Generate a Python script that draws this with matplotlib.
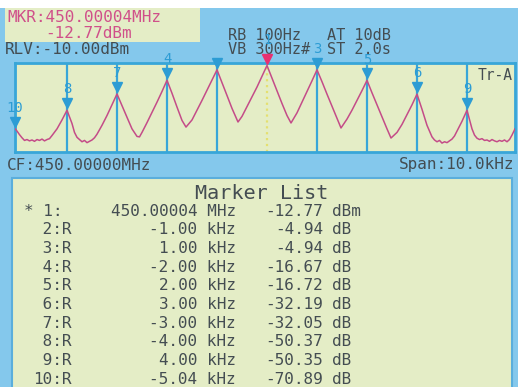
import matplotlib
matplotlib.use("Agg")
import matplotlib.pyplot as plt
from matplotlib.patches import Rectangle
from matplotlib.transforms import offset_copy

# Analyzer settings
center_mhz = 450.0
span_khz = 10.0
ref_level_dbm = -10.0
db_per_div = 10.0

# Active marker and delta markers
mkr1_freq_mhz = 450.00004
mkr1_level_dbm = -12.77
delta_ids = [2, 3, 4, 5, 6, 7, 8, 9, 10]
delta_khz = [-1.00, 1.00, -2.00, 2.00, 3.00, -3.00, -4.00, 4.00, -5.04]
delta_db = [-4.94, -4.94, -16.67, -16.72, -32.19, -32.05, -50.37, -50.35, -70.89]
label_hidden = [2]

# Sweep trace (offset from CF in kHz, level in dBm)
trace_khz = [-5.00, -4.96, -4.91, -4.86, -4.81, -4.76, -4.71, -4.66, -4.61, -4.56,
             -4.51, -4.46, -4.41, -4.36, -4.31, -4.26, -4.16, -4.06, -3.96, -3.86,
             -3.81, -3.76, -3.71, -3.66, -3.61, -3.56, -3.51, -3.46, -3.41, -3.36,
             -3.26, -3.16, -3.06, -2.96, -2.86, -2.76, -2.66, -2.56, -2.51, -2.46,
             -2.36, -2.26, -2.16, -2.06, -1.96, -1.86, -1.76, -1.66, -1.58, -1.46,
             -1.36, -1.26, -1.16, -1.06, -0.96, -0.86, -0.76, -0.66, -0.54, -0.46,
             -0.36, -0.26, -0.16, -0.06, 0.04, 0.14, 0.24, 0.34, 0.44, 0.52,
             0.64, 0.74, 0.84, 0.94, 1.04, 1.14, 1.24, 1.34, 1.44, 1.52,
             1.64, 1.74, 1.84, 1.94, 2.04, 2.14, 2.24, 2.34, 2.44, 2.52,
             2.64, 2.74, 2.84, 2.94, 3.04, 3.14, 3.24, 3.34, 3.39, 3.44,
             3.49, 3.54, 3.59, 3.64, 3.69, 3.74, 3.79, 3.84, 3.94, 4.04,
             4.14, 4.19, 4.24, 4.29, 4.34, 4.39, 4.44, 4.49, 4.54, 4.59,
             4.64, 4.69, 4.74, 4.79, 4.84, 4.89, 4.94, 5.00]
trace_dbm = [-83.7, -86.5, -90.5, -94.0, -97.0, -96.0, -97.5, -96.5, -98.0, -96.0,
             -97.0, -95.5, -97.5, -96.0, -95.0, -91.5, -84.0, -74.0, -63.1, -78.0,
             -88.0, -93.5, -96.0, -98.5, -97.0, -99.5, -98.0, -96.5, -94.0, -90.0,
             -80.0, -69.0, -57.0, -44.8, -58.0, -71.0, -84.0, -92.5, -93.0, -88.0,
             -77.0, -65.5, -54.0, -42.0, -29.4, -44.0, -59.5, -74.5, -82.0, -74.0,
             -63.0, -52.0, -40.5, -29.0, -17.7, -32.0, -46.5, -61.0, -76.3, -70.0,
             -59.0, -48.0, -37.0, -25.0, -12.8, -27.0, -41.5, -55.5, -69.0, -77.4,
             -66.0, -54.0, -42.0, -30.0, -17.7, -31.0, -45.0, -58.5, -72.0, -83.0,
             -73.0, -63.0, -52.0, -41.0, -29.5, -43.5, -57.0, -70.5, -84.0, -94.3,
             -88.0, -79.0, -68.0, -57.0, -45.0, -62.0, -80.0, -93.0, -96.5, -98.5,
             -97.0, -100.0, -98.5, -99.5, -97.5, -95.5, -92.0, -86.5, -75.5, -63.1,
             -84.0, -91.0, -94.5, -96.0, -95.0, -97.0, -96.5, -98.0, -96.0, -97.5,
             -98.5, -97.0, -98.0, -96.5, -98.5, -96.0, -91.0, -84.0]

W, H = 518, 387
BG = "#84c8ec"
PANEL = "#e4edc6"
LINE = "#38a6d8"
TXT = "#444d52"
PINK = "#d0508a"
MONO = "DejaVu Sans Mono"


def fx(x):
    return x / W


def fy(y):
    return 1 - y / H


fig = plt.figure(figsize=(W / 100, H / 100), dpi=100)
fig.patch.set_facecolor("white")
fig.patches.append(Rectangle((0, 0), 1, fy(8), transform=fig.transFigure,
                             facecolor=BG, edgecolor="none", zorder=-3))
# readout panel top-left
fig.patches.append(Rectangle((fx(5), fy(42)), fx(195), 34 / H, transform=fig.transFigure,
                             facecolor=PANEL, edgecolor="none", zorder=-2))
# marker list panel
fig.patches.append(Rectangle((fx(12), fy(395)), fx(500), 217 / H, transform=fig.transFigure,
                             facecolor=PANEL, edgecolor="#5aaedc", lw=1.5, zorder=-2))

# header readouts
fig.text(fx(7), fy(17), f"MKR:{mkr1_freq_mhz:.5f}MHz", color=PINK, family=MONO,
         fontsize=11.5, va="center")
fig.text(fx(45), fy(33), f"{mkr1_level_dbm:.2f}dBm", color=PINK, family=MONO,
         fontsize=11.5, va="center")
fig.text(fx(5), fy(50), f"RLV:{ref_level_dbm:.2f}dBm", color=TXT, family=MONO,
         fontsize=11.5, va="center")
fig.text(fx(228), fy(35), "RB 100Hz", color=TXT, family=MONO, fontsize=11, va="center")
fig.text(fx(228), fy(50), "VB 300Hz#", color=TXT, family=MONO, fontsize=11, va="center")
fig.text(fx(327), fy(35), "AT 10dB", color=TXT, family=MONO, fontsize=11, va="center")
fig.text(fx(327), fy(50), "ST 2.0s", color=TXT, family=MONO, fontsize=11, va="center")
fig.text(fx(7), fy(165), f"CF:{center_mhz:.5f}MHz", color=TXT, family=MONO,
         fontsize=11.5, va="center")
fig.text(fx(514), fy(165), f"Span:{span_khz:.1f}kHz", color=TXT, family=MONO,
         fontsize=11.5, va="center", ha="right")

# trace display (kept above the readout text so marker numbers stay visible)
ax = fig.add_axes([fx(15), fy(152), fx(500), 89 / H])
ax.set_zorder(4)
ax.set_facecolor(PANEL)
ax.set_xlim(-span_khz / 2, span_khz / 2)
ax.set_ylim(ref_level_dbm - 10 * db_per_div, ref_level_dbm)
ax.set_xticks([])
ax.set_yticks([])
for s in ax.spines.values():
    s.set_color(LINE)
    s.set_linewidth(2)

m1_x = (mkr1_freq_mhz - center_mhz) * 1000
mk_x = [m1_x + d for d in delta_khz]
mk_y = [mkr1_level_dbm + d for d in delta_db]

ax.vlines(mk_x, ref_level_dbm - 10 * db_per_div, ref_level_dbm, color=LINE, lw=1.6, zorder=2)
ax.vlines(m1_x, ref_level_dbm - 10 * db_per_div, mkr1_level_dbm, color="#e4e070",
          lw=1.6, ls=":", zorder=2)
ax.plot(trace_khz, trace_dbm, color="#c44c88", lw=1.1, zorder=3)

tri = offset_copy(ax.transData, fig=fig, x=0, y=5, units="points")
ax.plot(mk_x, mk_y, "v", color="#2c9cd4", ms=6.5, transform=tri, zorder=4, clip_on=False)
ax.plot([m1_x], [mkr1_level_dbm], "v", color="#e83070", ms=6.5, transform=tri,
        zorder=5, clip_on=False)

ax.annotate("1", (m1_x, mkr1_level_dbm), xytext=(0, 18), textcoords="offset points",
            ha="center", va="center", color="#2c9cd4", fontsize=10, family=MONO,
            annotation_clip=False)
for i, x, y in zip(delta_ids, mk_x, mk_y):
    if i in label_hidden:
        continue
    ax.annotate(str(i), (x, y), xytext=(0, 15), textcoords="offset points",
                ha="center", va="center", color="#2c9cd4", fontsize=10, family=MONO,
                annotation_clip=False)

ax.text(0.995, 0.86, "Tr-A", transform=ax.transAxes, ha="right", va="center",
        color=TXT, family=MONO, fontsize=10.5)

# marker list table
fig.text(fx(262), fy(193), "Marker List", color=TXT, family=MONO, fontsize=14.5,
         ha="center", va="center")
row_y = 211
fig.text(fx(24), fy(row_y), "* 1:", color=TXT, family=MONO, fontsize=11.5, va="center")
fig.text(fx(236), fy(row_y), f"{mkr1_freq_mhz:.5f} MHz", color=TXT, family=MONO,
         fontsize=11.5, va="center", ha="right")
fig.text(fx(323), fy(row_y), f"{mkr1_level_dbm:.2f}", color=TXT, family=MONO,
         fontsize=11.5, va="center", ha="right")
fig.text(fx(332), fy(row_y), "dBm", color=TXT, family=MONO, fontsize=11.5, va="center")
for k, (i, dk, dd) in enumerate(zip(delta_ids, delta_khz, delta_db)):
    yy = row_y + 18.7 * (k + 1)
    fig.text(fx(33), fy(yy), f"{i:>2}:R", color=TXT, family=MONO, fontsize=11.5, va="center")
    fig.text(fx(236), fy(yy), f"{dk:.2f} kHz", color=TXT, family=MONO, fontsize=11.5,
             va="center", ha="right")
    fig.text(fx(323), fy(yy), f"{dd:.2f}", color=TXT, family=MONO, fontsize=11.5,
             va="center", ha="right")
    fig.text(fx(332), fy(yy), "dB", color=TXT, family=MONO, fontsize=11.5, va="center")

fig.savefig("out.png", dpi=100)
